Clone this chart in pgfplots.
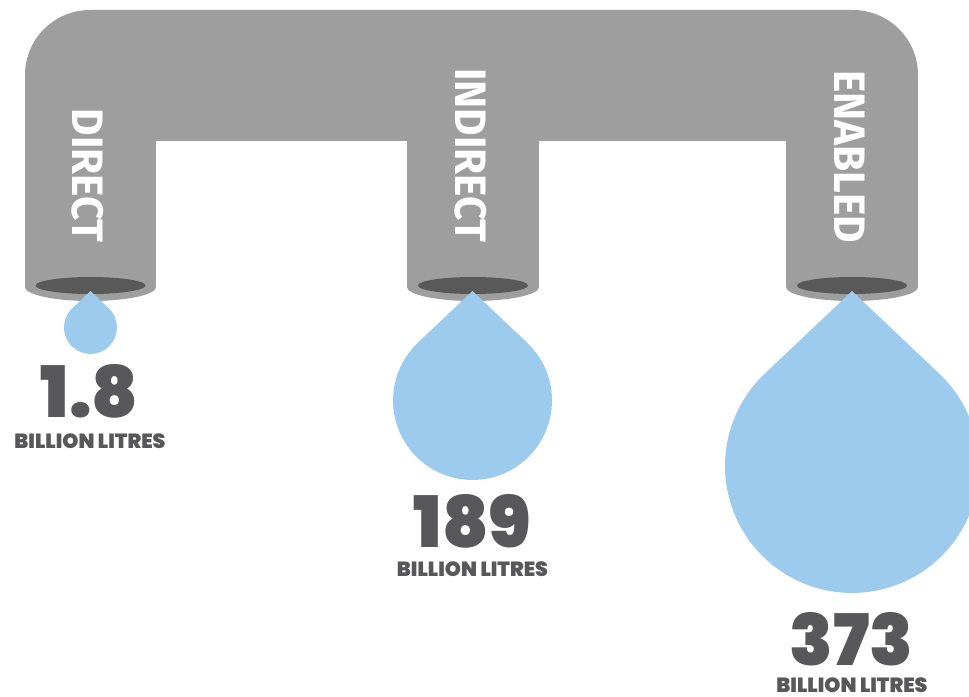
\documentclass[border=0pt]{standalone}
\usepackage{pgfplots}
\pgfplotsset{compat=1.18}
\usepackage{pgfplotstable}
\usepackage{fontspec}
\setmainfont{Fira Sans}
\IfFontExistsTF{Poppins Black}{\newfontfamily\numfont{Poppins Black}}{%
  \IfFontExistsTF{Poppins ExtraBold}{\newfontfamily\numfont{Poppins ExtraBold}}{%
    \newfontfamily\numfont[FakeBold=1.5]{Poppins Bold}}}
\newfontfamily\labfont{Fira Sans}[FakeStretch=0.96]
\definecolor{pipegray}{RGB}{157,158,157}
\definecolor{holegray}{RGB}{89,89,89}
\definecolor{dropblue}{RGB}{157,203,237}
\definecolor{txtgray}{RGB}{88,88,90}

\pgfdeclareplotmark{drop}{%
  \pgfpathmoveto{\pgfqpoint{0pt}{1.378\pgfplotmarksize}}%
  \pgfpathlineto{\pgfqpoint{0.687\pgfplotmarksize}{0.727\pgfplotmarksize}}%
  \pgfpatharc{46.6}{-226.6}{\pgfplotmarksize}%
  \pgfpathclose
  \pgfusepathqfill
}

% drop centre (x,y in pixels, y downwards), radius r, value
\pgfplotstableread{
x     y      r     value
90.5  327.5  26.5  1.8
472.5 400.5  79.5  189
852   466    127   373
}\drops

\begin{document}
\begin{tikzpicture}
\useasboundingbox (0,0) rectangle (969bp,697bp);
\begin{axis}[width=969bp, height=697bp, scale only axis,
  xmin=0, xmax=969, ymin=0, ymax=697, y dir=reverse,
  hide axis, clip marker paths=true]
% pipe
\fill[pipegray, rounded corners=65bp] (axis cs:25,10) rectangle (axis cs:918,141);
\fill[pipegray] (axis cs:25,74) rectangle (axis cs:156,287);
\fill[pipegray] (axis cs:407,100) rectangle (axis cs:539,287);
\fill[pipegray] (axis cs:786,74) rectangle (axis cs:918,287);
\fill[pipegray] (axis cs:90.5,287) ellipse [x radius=65.5, y radius=14];
\fill[pipegray] (axis cs:473,287) ellipse [x radius=66, y radius=14];
\fill[pipegray] (axis cs:852,287) ellipse [x radius=66, y radius=14];
\fill[holegray] (axis cs:90.5,285.5) ellipse [x radius=55, y radius=8.5];
\fill[holegray] (axis cs:473,285.5) ellipse [x radius=55, y radius=8.5];
\fill[holegray] (axis cs:852,285.5) ellipse [x radius=55, y radius=8.5];
% drops
\addplot[only marks, scatter, mark=drop,
  scatter/use mapped color={draw=none, fill=dropblue},
  visualization depends on={\thisrow{r}\as\rr},
  scatter/@pre marker code/.append style={/tikz/mark size=\rr bp}]
  table[x=x, y=y] {\drops};
% labels
\begin{scope}[every node/.style={inner sep=0pt, text=white}]
\node[rotate=-90, anchor=east, font=\labfont\bfseries\fontsize{44bp}{44bp}\selectfont] at (axis cs:87.5,243) {DIRECT};
\node[rotate=-90, anchor=east, font=\labfont\bfseries\fontsize{44bp}{44bp}\selectfont] at (axis cs:471,243) {INDIRECT};
\node[rotate=-90, anchor=east, font=\labfont\bfseries\fontsize{44bp}{44bp}\selectfont] at (axis cs:850,243) {ENABLED};
\end{scope}
\begin{scope}[every node/.style={inner sep=0pt, text=txtgray, anchor=base}]
\node[font=\numfont\fontsize{71bp}{71bp}\selectfont] at (axis cs:89.5,417) {1.8};
\node[font=\numfont\fontsize{71bp}{71bp}\selectfont] at (axis cs:472.5,547) {189};
\node[font=\numfont\fontsize{71bp}{71bp}\selectfont] at (axis cs:851.5,665) {373};
\node[font=\numfont\fontsize{20.5bp}{20.5bp}\selectfont] at (axis cs:90,448) {BILLION LITRES};
\node[font=\numfont\fontsize{20.5bp}{20.5bp}\selectfont] at (axis cs:472.5,576) {BILLION LITRES};
\node[font=\numfont\fontsize{20.5bp}{20.5bp}\selectfont] at (axis cs:852,692) {BILLION LITRES};
\end{scope}
\end{axis}
\end{tikzpicture}
\end{document}
